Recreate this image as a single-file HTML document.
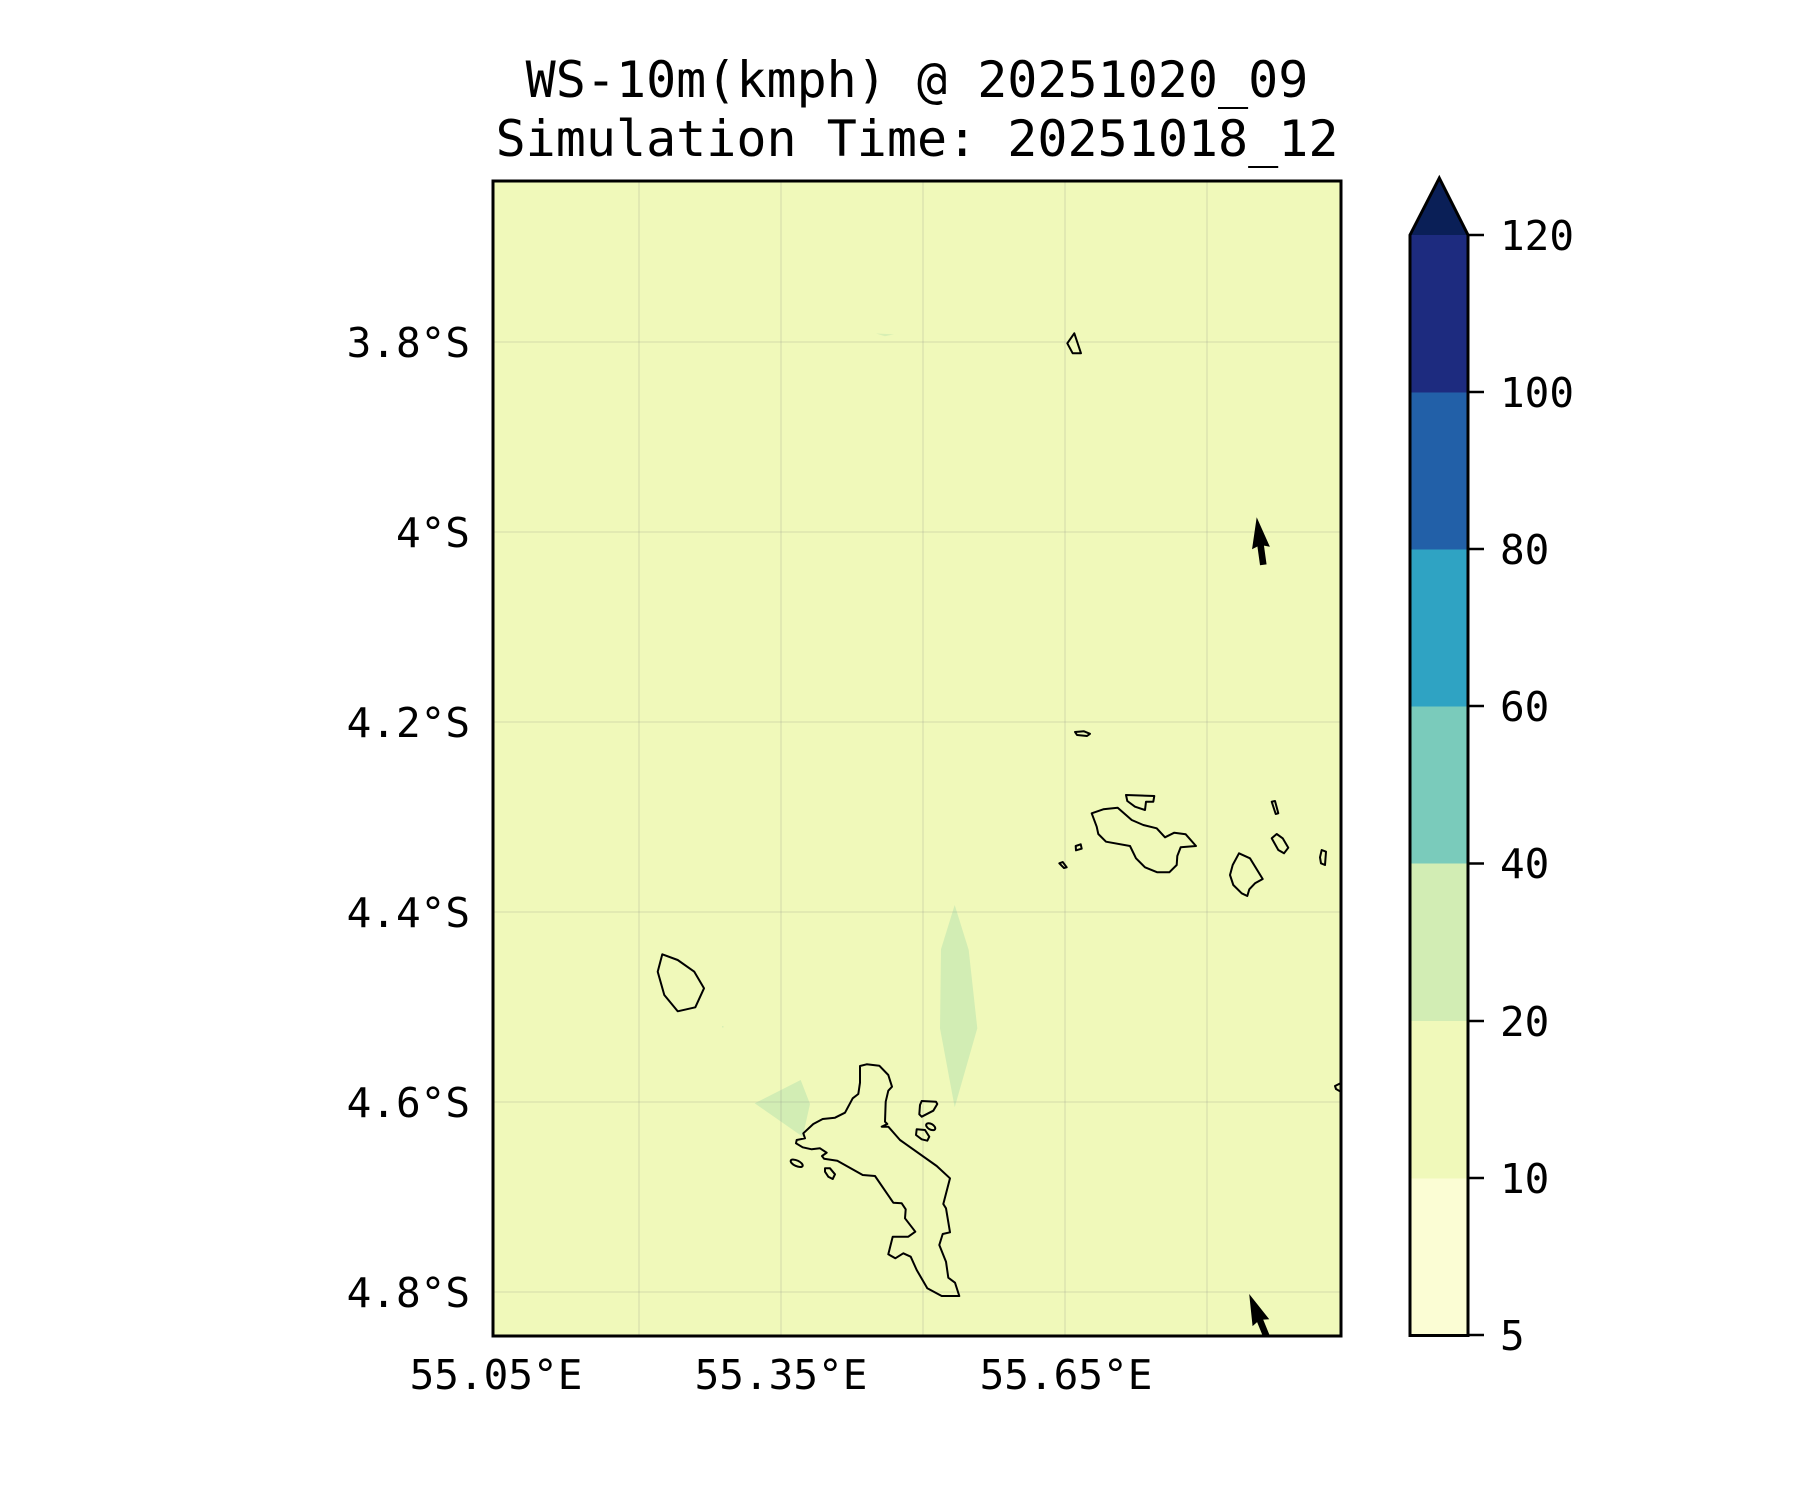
<!DOCTYPE html>
<html>
<head>
<meta charset="utf-8">
<style>
  html, body { margin:0; padding:0; background:#ffffff; }
  body { width:1800px; height:1500px; overflow:hidden; }
  svg { display:block; }
  text { font-family: "DejaVu Sans Mono", "Liberation Mono", monospace; fill:#000; }
</style>
</head>
<body>
<svg width="1800" height="1500" viewBox="0 0 1800 1500" xmlns="http://www.w3.org/2000/svg">
  <defs>
    <clipPath id="ax">
      <rect x="493" y="181" width="848" height="1155"/>
    </clipPath>
  </defs>

  <!-- Title -->
  <text x="917" y="97" font-size="50" text-anchor="middle">WS-10m(kmph) @ 20251020_09</text>
  <text x="917" y="156" font-size="50" text-anchor="middle">Simulation Time: 20251018_12</text>

  <!-- Map background -->
  <rect x="493" y="181" width="848" height="1155" fill="#f0f9ba"/>

  <g clip-path="url(#ax)">
    <!-- green patches (20-40) -->
    <polygon points="954.7,905 968.7,950 977.3,1028.3 954.7,1107.3 940,1028.3 941,949.3" fill="#d2edb4"/>
    <polygon points="800.7,1080 810,1104 802.7,1136.7 754.7,1103.3" fill="#d2edb4"/>
    <polygon points="876,333.5 894,334.3 885,336.2" fill="#d8efb4"/>
    <rect x="722" y="1026" width="1.5" height="1.5" fill="#d8efb4"/>

    <!-- gridlines -->
    <g stroke="#808080" stroke-opacity="0.17" stroke-width="1.6" fill="none">
      <line x1="493" y1="342" x2="1341" y2="342"/>
      <line x1="493" y1="532" x2="1341" y2="532"/>
      <line x1="493" y1="722" x2="1341" y2="722"/>
      <line x1="493" y1="912" x2="1341" y2="912"/>
      <line x1="493" y1="1102" x2="1341" y2="1102"/>
      <line x1="493" y1="1292" x2="1341" y2="1292"/>
      <line x1="639" y1="181" x2="639" y2="1336"/>
      <line x1="781" y1="181" x2="781" y2="1336"/>
      <line x1="923" y1="181" x2="923" y2="1336"/>
      <line x1="1065" y1="181" x2="1065" y2="1336"/>
      <line x1="1207" y1="181" x2="1207" y2="1336"/>
    </g>

    <!-- coastlines -->
    <g fill="none" stroke="#000" stroke-width="2" stroke-linejoin="round">
      <polygon points="1074.3,333.3 1067.3,343.3 1072.7,353.3 1081,353.3"/>
      <polygon points="1075,732 1084,731.3 1090,733.8 1087,736 1077,735"/>
      <polygon points="662.3,954.3 677.7,960 694.3,971.7 704,988.3 695.3,1007.3 677.7,1011.3 664.3,995 657.7,971.7"/>
      <polygon points="860,1066 866.7,1064.3 879.3,1065.7 888.3,1075 892,1086.7 888.3,1090.7 885.7,1101.7 885,1121.7 887.3,1124 881.7,1126.7 888.3,1126.7 900,1140 936.7,1166 950,1178.3 943.3,1204 946,1208.3 950,1232.3 942.7,1234 939.3,1245 946,1261.7 948.3,1277.7 955,1282.7 959.3,1296 941.7,1296 927.3,1288.3 916.7,1270 910.7,1256.7 903.3,1253.3 895.3,1258.3 888.3,1254.3 892.7,1236.7 908.3,1236.7 915.3,1231.7 905,1218.3 905.7,1209.3 901.7,1203.3 893.3,1202.7 875,1176 862.7,1175 837.3,1160.7 824,1158.7 822,1156 826.7,1152.7 820,1148.3 811.7,1149.3 802.7,1147.3 796,1143.3 796.7,1140 805,1138.3 803.3,1133.3 813.3,1124 822.7,1119 835,1117.7 845,1112.7 852.7,1098.3 858.3,1094 860,1082.7"/>
      <polygon points="921.7,1101 936,1101.7 937.3,1104 933.3,1110.7 921.7,1116.7 919.3,1114.3 920,1105"/>
      <ellipse cx="930.7" cy="1126.7" rx="5" ry="2.8" transform="rotate(30 930.7 1126.7)"/>
      <polygon points="916.7,1129.3 925,1130 929.3,1136.7 927.3,1140.7 921.7,1139.3 916,1135"/>
      <ellipse cx="796.7" cy="1163.3" rx="6.5" ry="2.8" transform="rotate(25 796.7 1163.3)"/>
      <polygon points="825,1168.3 830,1168.3 835,1174.3 832.7,1179 828.3,1176.7 825,1171.7"/>
      <polygon points="1091.7,813.3 1103.3,809.3 1117.7,807.7 1131.7,820 1143.3,825 1156.7,828.3 1165,837.3 1174.3,832.7 1185.7,834.3 1196,846 1180.7,847.3 1177.3,856 1176.7,865 1169.3,872.3 1157.3,872.3 1145,867.3 1136,858.3 1130,846 1106,841.7 1098.3,834 1096.7,826.7"/>
      <polygon points="1126,795 1154.3,796 1153.3,801.7 1146,801.7 1145,810 1135,806.7 1127.3,801"/>
      <polygon points="1075.7,846 1080.7,844.3 1081.7,848.7 1076,850.3"/>
      <polygon points="1059.3,863.3 1062.7,862 1066.7,867.3 1064,868"/>
      <polygon points="1239,853.3 1250,858.3 1262.7,879 1255,883.3 1249.3,889.3 1247.3,896 1241.7,893.3 1233.3,885 1230,875 1232.7,865"/>
      <polygon points="1271.7,838.3 1276.7,834 1282.7,838.3 1288.3,847.7 1284,853.3 1278.3,850"/>
      <polygon points="1271.7,801.7 1275,801 1278.3,813.3 1275.7,814"/>
      <polygon points="1321.7,850 1326,851.7 1325,865 1321,863.3 1320,857.3"/>
      <polyline points="1343,1082 1335,1086 1336,1089 1343,1093"/>
    </g>

    <!-- wind arrows -->
    <g fill="#000">
      <polygon transform="translate(1256.7,517.3) rotate(-7.9)" points="0,0 9,31 3.3,29 3.3,48 -3.3,48 -3.3,29 -9,31"/>
      <polygon transform="translate(1249.2,1294) rotate(-22.2)" points="0,0 9,31 3.3,29 3.3,48 -3.3,48 -3.3,29 -9,31"/>
    </g>
  </g>

  <!-- axes frame -->
  <rect x="493" y="181" width="848" height="1155" fill="none" stroke="#000" stroke-width="3"/>

  <!-- y tick labels -->
  <g font-size="41" text-anchor="end">
    <text x="470" y="357">3.8°S</text>
    <text x="470" y="547">4°S</text>
    <text x="470" y="737">4.2°S</text>
    <text x="470" y="927">4.4°S</text>
    <text x="470" y="1117">4.6°S</text>
    <text x="470" y="1307">4.8°S</text>
  </g>

  <!-- x tick labels -->
  <g font-size="41" text-anchor="middle">
    <text x="496" y="1389">55.05°E</text>
    <text x="781" y="1389">55.35°E</text>
    <text x="1066" y="1389">55.65°E</text>
  </g>

  <!-- colorbar -->
  <g>
    <rect x="1410" y="1178" width="58" height="157.5" fill="#fbfdd4"/>
    <rect x="1410" y="1021" width="58" height="157.5" fill="#f0f9ba"/>
    <rect x="1410" y="863.5" width="58" height="157.5" fill="#d2edb4"/>
    <rect x="1410" y="706" width="58" height="157.5" fill="#7acbbb"/>
    <rect x="1410" y="549" width="58" height="157.5" fill="#2fa3c3"/>
    <rect x="1410" y="392" width="58" height="157.5" fill="#2260a8"/>
    <rect x="1410" y="235" width="58" height="157.5" fill="#1d2b7f"/>
    <polygon points="1410,235 1439.3,178 1468,235" fill="#0a1f57"/>
    <polygon points="1410,1335.5 1410,235 1439.3,178 1468,235 1468,1335.5" fill="none" stroke="#000" stroke-width="3" stroke-linejoin="miter"/>
    <g stroke="#000" stroke-width="2.5">
      <line x1="1468" y1="235" x2="1484" y2="235"/>
      <line x1="1468" y1="392" x2="1484" y2="392"/>
      <line x1="1468" y1="549" x2="1484" y2="549"/>
      <line x1="1468" y1="706" x2="1484" y2="706"/>
      <line x1="1468" y1="863.5" x2="1484" y2="863.5"/>
      <line x1="1468" y1="1021" x2="1484" y2="1021"/>
      <line x1="1468" y1="1178" x2="1484" y2="1178"/>
      <line x1="1468" y1="1335" x2="1484" y2="1335"/>
    </g>
    <g font-size="41" text-anchor="start">
      <text x="1500" y="250">120</text>
      <text x="1500" y="407">100</text>
      <text x="1500" y="564">80</text>
      <text x="1500" y="721">60</text>
      <text x="1500" y="878">40</text>
      <text x="1500" y="1036">20</text>
      <text x="1500" y="1193">10</text>
      <text x="1500" y="1350">5</text>
    </g>
  </g>
</svg>
</body>
</html>
